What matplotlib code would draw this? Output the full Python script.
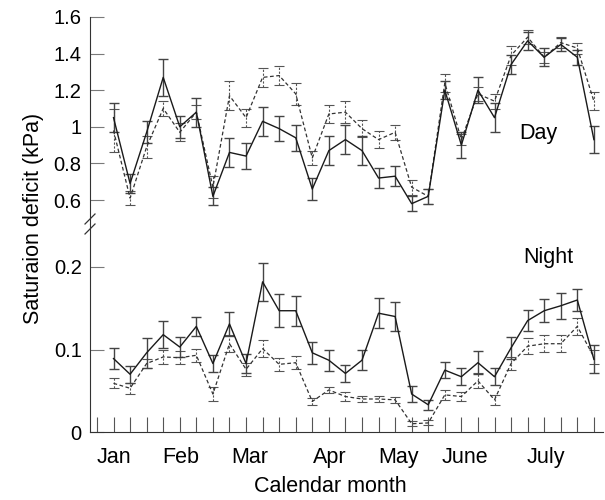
import matplotlib
matplotlib.use("Agg")
import matplotlib.pyplot as plt
import numpy as np

plt.rcParams['font.family'] = ['Liberation Sans', 'DejaVu Sans']

# weekly samples, Jan to July
weeks = np.arange(1, 31)

day_solid = [1.05, 0.69, 0.97, 1.27, 1.00, 1.08, 0.62, 0.86, 0.84, 1.03,
             0.99, 0.94, 0.66, 0.87, 0.93, 0.87, 0.72, 0.73, 0.58, 0.62,
             1.20, 0.90, 1.20, 1.05, 1.34, 1.47, 1.38, 1.45, 1.38, 0.93]
day_solid_err = [0.08, 0.05, 0.06, 0.10, 0.06, 0.08, 0.05, 0.08, 0.07, 0.08,
                 0.07, 0.07, 0.06, 0.08, 0.08, 0.08, 0.055, 0.055, 0.04, 0.04,
                 0.05, 0.07, 0.07, 0.08, 0.05, 0.05, 0.05, 0.035, 0.04, 0.075]
day_dash = [0.98, 0.61, 0.89, 1.10, 0.97, 1.08, 0.67, 1.17, 1.05, 1.27,
            1.28, 1.18, 0.83, 1.07, 1.08, 0.99, 0.93, 0.97, 0.67, 0.62,
            1.24, 0.93, 1.18, 1.14, 1.39, 1.49, 1.38, 1.46, 1.43, 1.14]
day_dash_err = [0.12, 0.04, 0.06, 0.04, 0.05, 0.04, 0.06, 0.08, 0.05, 0.05,
                0.05, 0.06, 0.04, 0.05, 0.06, 0.045, 0.045, 0.04, 0.04, 0.04,
                0.05, 0.03, 0.04, 0.04, 0.05, 0.04, 0.03, 0.03, 0.03, 0.05]

night_solid = [0.089, 0.070, 0.096, 0.118, 0.103, 0.128, 0.083, 0.131, 0.083, 0.182,
               0.147, 0.147, 0.096, 0.087, 0.071, 0.087, 0.144, 0.140, 0.046, 0.033,
               0.075, 0.067, 0.084, 0.067, 0.102, 0.135, 0.147, 0.153, 0.160, 0.088]
night_solid_err = [0.013, 0.010, 0.018, 0.016, 0.012, 0.012, 0.010, 0.015, 0.012, 0.023,
                   0.020, 0.018, 0.013, 0.013, 0.010, 0.012, 0.018, 0.018, 0.010, 0.006,
                   0.010, 0.010, 0.014, 0.010, 0.013, 0.013, 0.014, 0.016, 0.013, 0.017]
night_dash = [0.059, 0.053, 0.083, 0.091, 0.090, 0.093, 0.046, 0.107, 0.076, 0.101,
              0.082, 0.084, 0.037, 0.051, 0.043, 0.040, 0.040, 0.039, 0.010, 0.011,
              0.045, 0.043, 0.062, 0.039, 0.083, 0.104, 0.107, 0.107, 0.128, 0.091]
night_dash_err = [0.006, 0.007, 0.006, 0.009, 0.008, 0.008, 0.009, 0.010, 0.008, 0.010,
                  0.008, 0.008, 0.004, 0.004, 0.005, 0.004, 0.004, 0.004, 0.003, 0.003,
                  0.006, 0.006, 0.009, 0.006, 0.008, 0.010, 0.010, 0.010, 0.010, 0.008]

months = ["Jan", "Feb", "Mar", "Apr", "May", "June", "July"]
month_pos = [1.03, 5.07, 9.24, 14.08, 18.2, 22.2, 27.1]

top_ticks = [0.6, 0.8, 1.0, 1.2, 1.4, 1.6]
top_labels = ["0.6", "0.8", "1", "1.2", "1.4", "1.6"]
bot_ticks = [0, 0.1, 0.2]
bot_labels = ["0", "0.1", "0.2"]

W, H = 605, 500
fig = plt.figure(figsize=(W / 100, H / 100), dpi=100)

x0, x1 = 90, 603
ax_top = fig.add_axes([x0 / W, 1 - 224 / H, (x1 - x0) / W, (224 - 17) / H])
ax_bot = fig.add_axes([x0 / W, 1 - 432 / H, (x1 - x0) / W, (432 - 224) / H])

line_col = "#1a1a1a"
dash_col = "#333333"
bar_col = "#444444"
tick_col = "#7a7a7a"


def draw_pair(ax, y1, e1, y2, e2):
    eb = ax.errorbar(weeks, y2, yerr=e2, color=dash_col, lw=0.9, ls=(0, (3, 2)),
                     ecolor="#555555", elinewidth=0.8, capsize=3.5, capthick=0.8)
    eb[2][0].set_linestyle((0, (2, 1.5)))
    ax.errorbar(weeks, y1, yerr=e1, color=line_col, lw=1.0, ls="-",
                ecolor=bar_col, elinewidth=1.0, capsize=3.5, capthick=1.0)


draw_pair(ax_top, day_solid, day_solid_err, day_dash, day_dash_err)
draw_pair(ax_bot, night_solid, night_solid_err, night_dash, night_dash_err)

for ax in (ax_top, ax_bot):
    ax.set_xlim(-0.42, 30.55)
    ax.spines["top"].set_visible(False)
    ax.spines["right"].set_visible(False)
    ax.spines["left"].set_color("#333333")
    ax.spines["bottom"].set_color("#333333")
    ax.tick_params(axis="y", direction="in", length=10, color=tick_col,
                   labelsize=14.5, pad=6)

ax_top.set_ylim(1.6 - 207 / 183, 1.6)
ax_top.set_yticks(top_ticks)
ax_top.set_yticklabels(top_labels)
ax_top.spines["bottom"].set_visible(False)
ax_top.set_xticks([])

ax_bot.set_ylim(0, 208 / 825)
ax_bot.set_yticks(bot_ticks)
ax_bot.set_yticklabels(bot_labels)
ax_bot.set_xticks(month_pos)
ax_bot.set_xticklabels(months)
ax_bot.set_xticks(np.arange(0, 31), minor=True)
ax_bot.tick_params(axis="x", which="major", length=0, labelsize=15.5, pad=11)
ax_bot.tick_params(axis="x", which="minor", direction="in", length=11,
                   color="#555555", width=0.8)

ax_top.text(26.65, 0.966, "Day", fontsize=15.5, ha="center", va="center")
ax_bot.text(27.25, 0.211, "Night", fontsize=15.5, ha="center", va="center")

# axis break marks
for yb in (219, 229):
    fig.add_artist(plt.Line2D([(x0 - 5) / W, (x0 + 5) / W],
                              [1 - (yb + 5) / H, 1 - (yb - 5) / H],
                              color="#333333", lw=0.9))

fig.text(34 / W, 1 - 218 / H, "Saturaion deficit (kPa)", rotation=90,
         ha="center", va="center", fontsize=15.5)
fig.text(330 / W, 1 - 487 / H, "Calendar month", ha="center", va="center",
         fontsize=15.5)

fig.savefig("out.png", dpi=100)
